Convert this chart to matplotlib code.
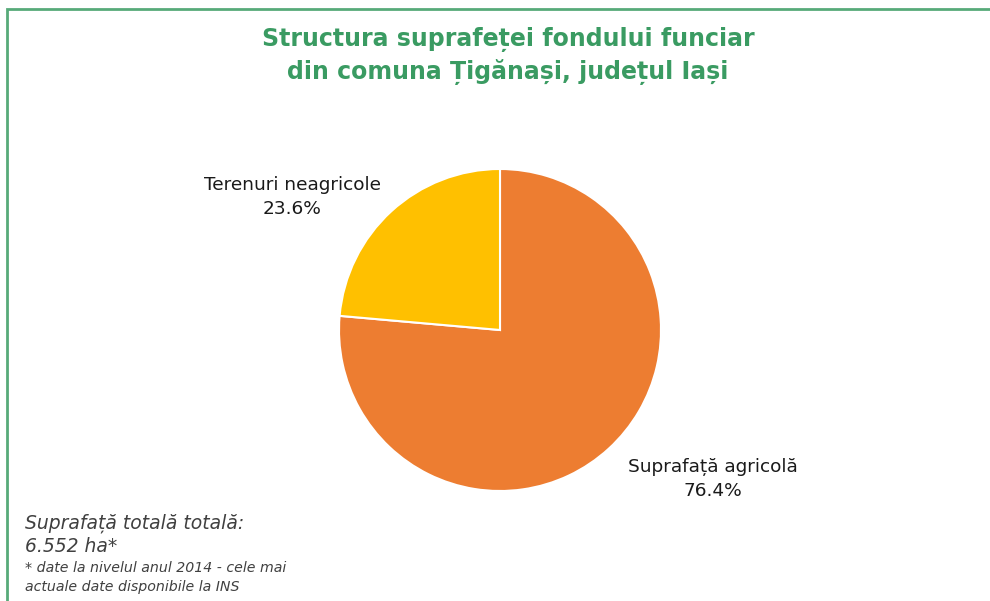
import matplotlib.pyplot as plt
from matplotlib.patches import Rectangle

# Structura fondului funciar, comuna Tiganasi (INS 2014)
categories = ["Suprafață agricolă", "Terenuri neagricole"]
shares = [76.4, 23.6]
colors = ["#ED7D31", "#FFC000"]

title_lines = ["Structura suprafeței fondului funciar",
               "din comuna Țigănași, județul Iași"]
green = "#3A9B62"

W, H = 990, 601
fig = plt.figure(figsize=(W / 100, H / 100), dpi=100)

# green frame, open to the right and bottom
fig.patches.append(Rectangle((7 / W, -0.1), 1.1, 1 - 9 / H + 0.1,
                             transform=fig.transFigure, fill=False,
                             edgecolor=green, linewidth=2, alpha=0.85))

# pie axes: centre (500, 330) px, radius 161 px
cx, cy, r = 500, 330, 161
pax = fig.add_axes([(cx - r) / W, 1 - (cy + r) / H, 2 * r / W, 2 * r / H])
pax.pie(shares, colors=colors, startangle=90, counterclock=False,
        wedgeprops=dict(edgecolor="white", linewidth=1.5))
pax.set_xlim(-1, 1)
pax.set_ylim(-1, 1)
pax.set_aspect("auto")
pax.axis("off")

# overlay in pixel coordinates for the text
ax = fig.add_axes([0, 0, 1, 1])
ax.set_xlim(0, W)
ax.set_ylim(H, 0)
ax.axis("off")

for i, line in enumerate(title_lines):
    ax.text(508, 40 + 32 * i, line, ha="center", va="center", fontsize=17,
            fontweight="bold", color=green)

label_pos = [(713, 479), (292, 197)]
for name, val, (x, y) in zip(categories, shares, label_pos):
    ax.text(x, y, f"{name}\n{val}%", ha="center", va="center",
            fontsize=13.3, color="#1a1a1a", linespacing=1.5)

ax.text(25, 523, "Suprafață totală totală:", fontsize=13.5, style="italic",
        color="#404040", va="center")
ax.text(25, 546, "6.552 ha*", fontsize=13.5, style="italic",
        color="#404040", va="center")
ax.text(25, 568, "* date la nivelul anul 2014 - cele mai", fontsize=10.2,
        style="italic", color="#404040", va="center")
ax.text(25, 587, "actuale date disponibile la INS", fontsize=10.2,
        style="italic", color="#404040", va="center")

fig.savefig("out.png", dpi=100)
